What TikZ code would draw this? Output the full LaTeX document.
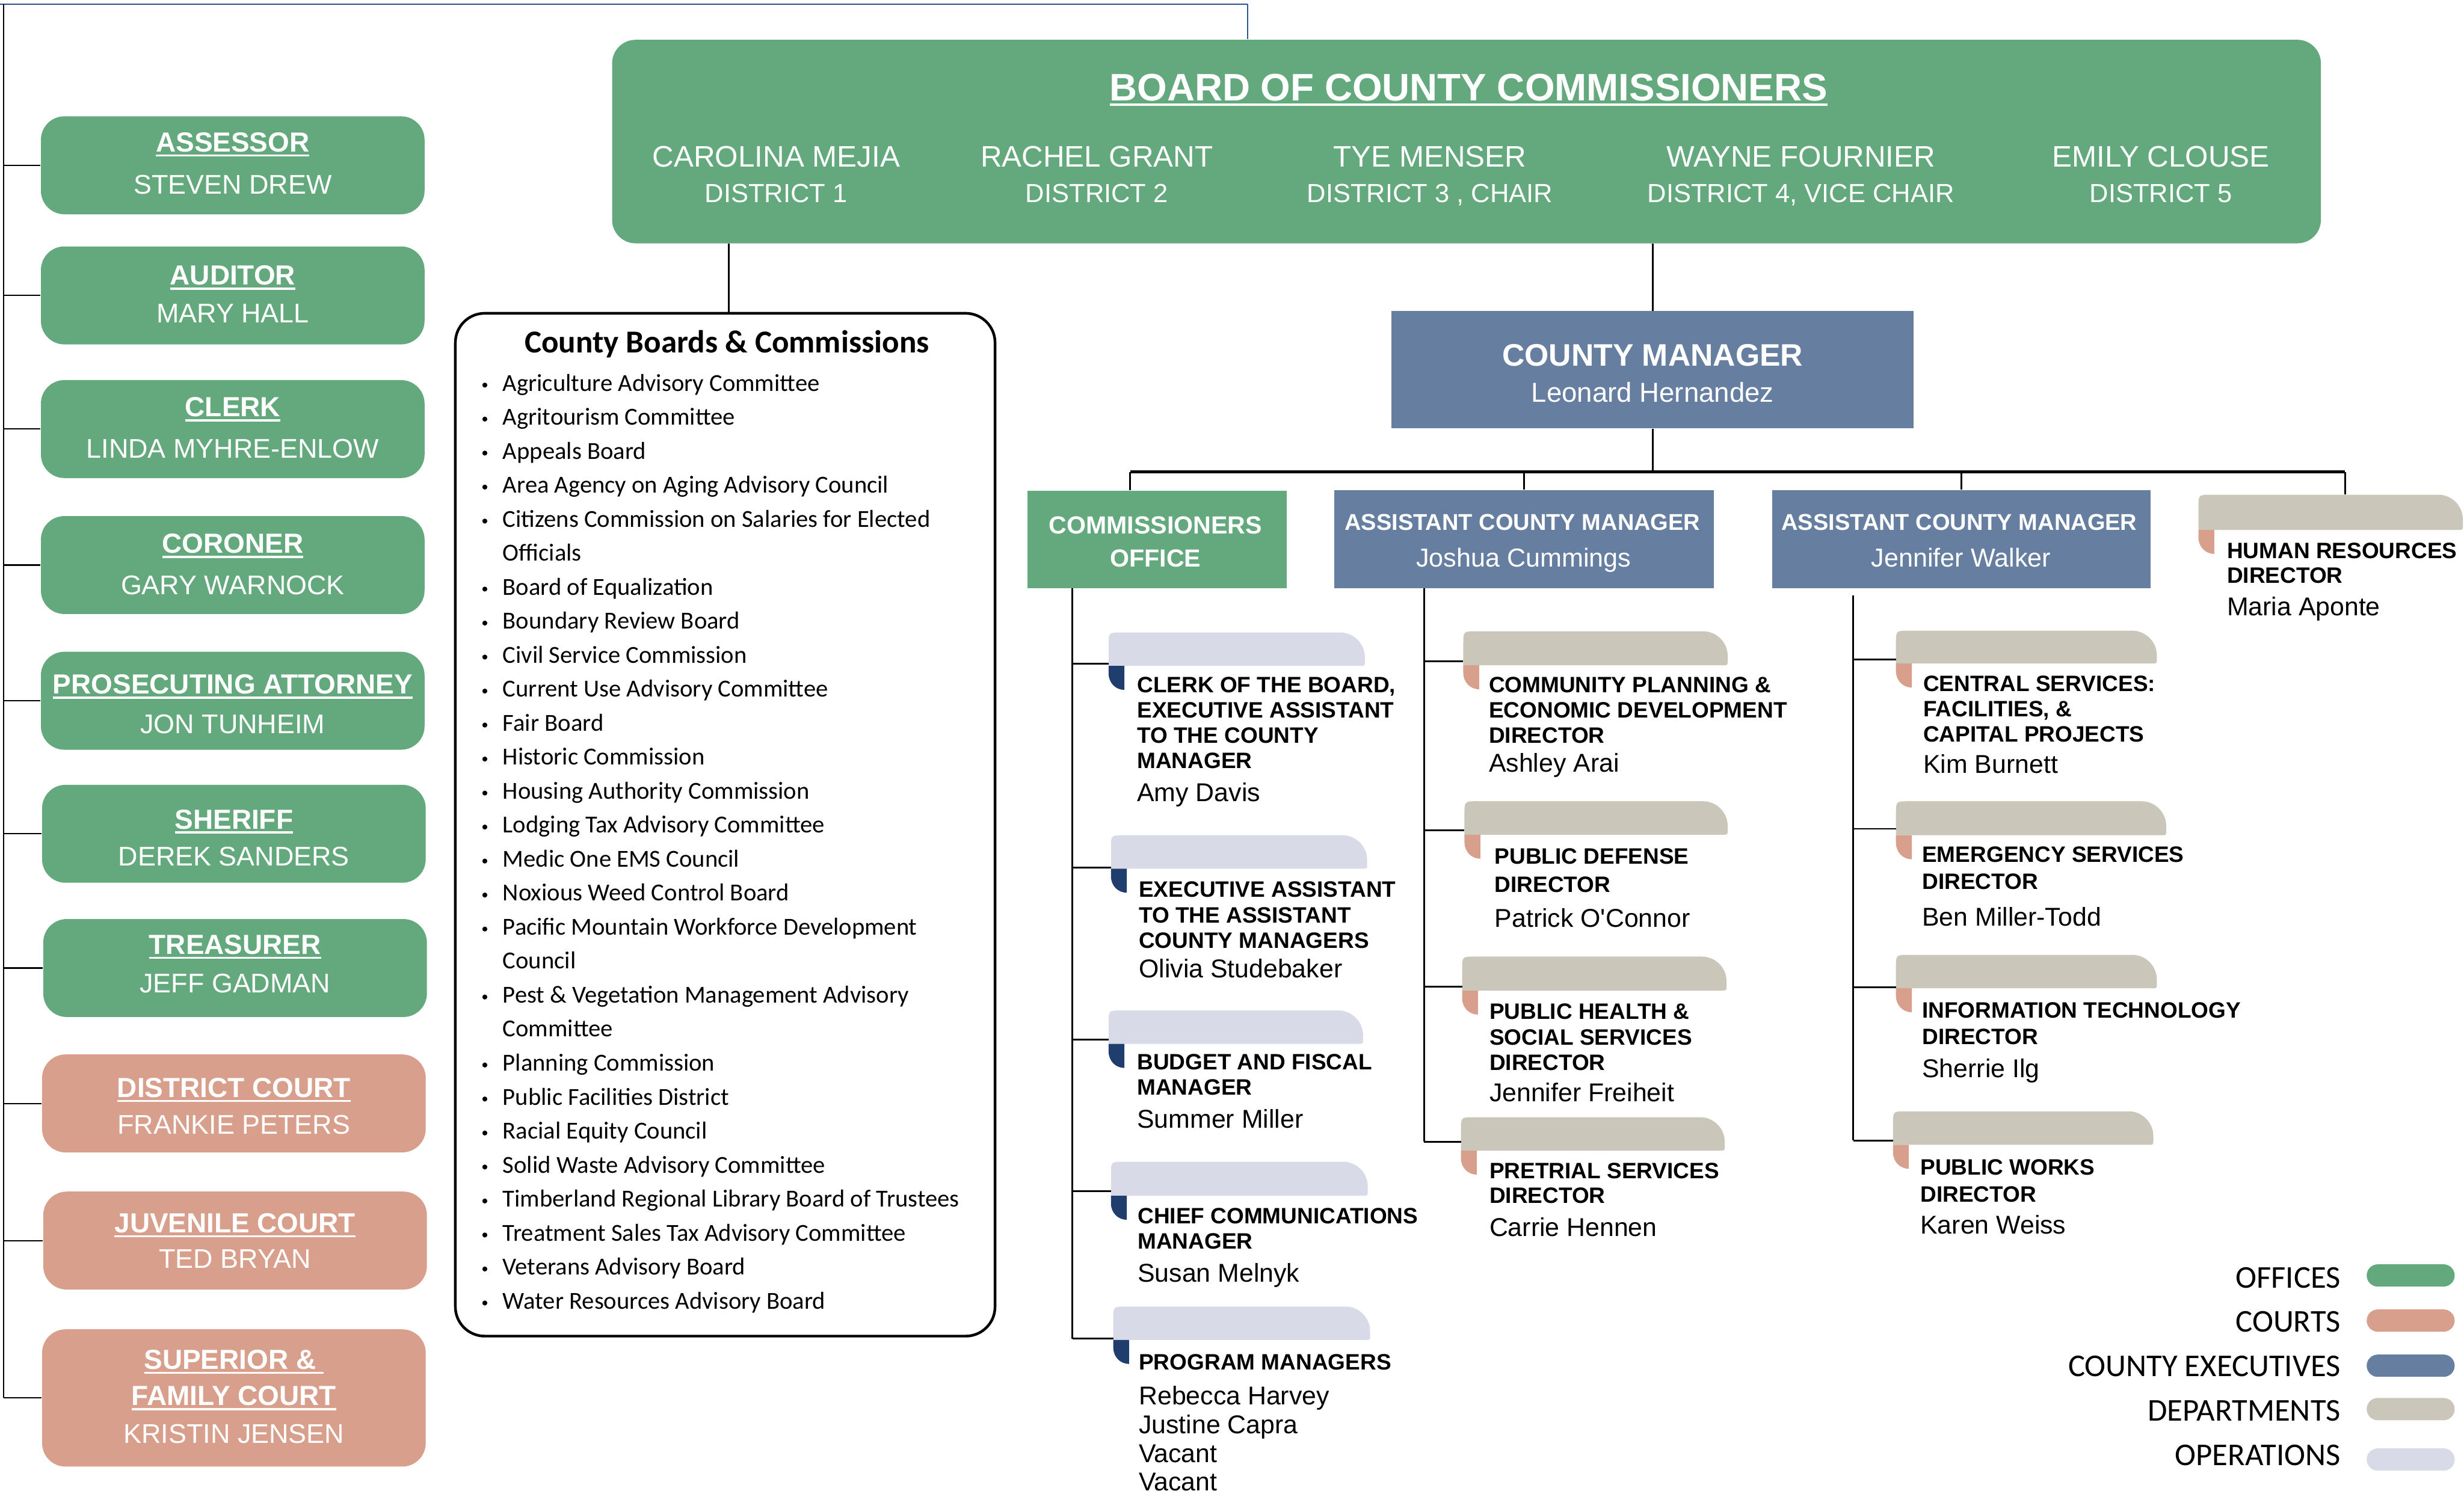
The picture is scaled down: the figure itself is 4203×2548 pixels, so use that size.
\documentclass[tikz,border=0pt]{standalone}
\usepackage{fontspec}
\setmainfont{Liberation Sans}
\newfontfamily\calibri{Carlito}

\definecolor{cgreen}{RGB}{100,168,125}
\definecolor{csalmon}{RGB}{216,160,140}
\definecolor{cexec}{RGB}{102,126,160}
\definecolor{cdept}{RGB}{202,199,186}
\definecolor{clav}{RGB}{216,218,232}
\definecolor{cnavy}{RGB}{31,62,110}
\definecolor{ctop}{RGB}{47,82,143}

% heavy underline for box titles
\newcommand\ulx[1]{\begingroup\setbox0\hbox{#1}\rlap{\rule[-2.3pt]{\wd0}{1pt}}\box0\endgroup}

% tab-shaped card: name, x0, y0, x1, y1, tab colour, accent colour, connector y
\newcommand\card[8]{%
  \fill[#6] (#2,#5) -- (#2,{#3+22}) .. controls (#2,#3) .. ({#2+22},#3)
     -- ({#4-42},#3) .. controls ({#4-19},#3) and (#4,{#3+19}) .. (#4,{#3+42})
     -- (#4,{#5-8}) .. controls (#4,#5) .. ({#4-8},#5) -- cycle;
  \fill[#7] (#2,#5) -- ({#2+27},#5) -- ({#2+27},{#5+41})
     .. controls ({#2+12},{#5+41}) and (#2,{#5+29}) .. (#2,{#5+13}) -- cycle;
  \node[inner sep=0, minimum width={(#4-#2)*0.01cm}, minimum height={(#5-#3)*0.01cm}]
     (#1) at ({(#2+#4)/2},{(#3+#5)/2}) {};
  \coordinate (#1-in) at (#2,#8);
}

\begin{document}
\begin{tikzpicture}[x=0.01cm, y=-0.01cm,
  conn/.style={line width=0.85pt, draw=black},
  thinconn/.style={line width=0.6pt, draw=black},
  busline/.style={line width=1.5pt, draw=black},
  offbox/.style={fill=cgreen, rounded corners=0.4cm, inner sep=0, minimum width=6.54cm, minimum height=1.67cm},
  courtbox/.style={offbox, fill=csalmon},
  wtxt/.style={text=white, inner sep=0, anchor=base},
  ltitle/.style={wtxt, font=\bfseries\fontsize{13.4}{16}\selectfont},
  lperson/.style={wtxt, font=\fontsize{13.1}{16}\selectfont},
  btitle/.style={wtxt, font=\bfseries\fontsize{18.6}{22}\selectfont},
  bname/.style={wtxt, font=\fontsize{14.4}{17}\selectfont},
  bdist/.style={wtxt, font=\fontsize{12.7}{15}\selectfont},
  cmtitle/.style={wtxt, font=\bfseries\fontsize{15.1}{18}\selectfont},
  cmname/.style={wtxt, font=\fontsize{13.3}{16}\selectfont},
  acmtitle/.style={wtxt, font=\bfseries\fontsize{11.1}{13}\selectfont},
  acmname/.style={wtxt, font=\fontsize{12.6}{15}\selectfont},
  cotitle/.style={wtxt, font=\bfseries\fontsize{12}{14}\selectfont},
  dtitle/.style={anchor=north west, inner sep=0, align=left, font=\bfseries\fontsize{10.8}{#1}\selectfont},
  dtitle/.default=12.3pt,
  dname/.style={anchor=north west, inner sep=0, align=left, font=\fontsize{12.5}{#1}\selectfont},
  dname/.default=15pt,
  bctitle/.style={anchor=base, inner sep=0, font=\calibri\bfseries\fontsize{15.5}{18}\selectfont},
  bcitem/.style={anchor=base west, inner sep=0, font=\calibri\fontsize{11.85}{14}\selectfont},
  bcbullet/.style={circle, fill=black, inner sep=0, minimum size=0.085cm},
  legtxt/.style={anchor=base east, inner sep=0, font=\calibri\fontsize{15.4}{18}\selectfont},
  swatch/.style={inner sep=0, minimum width=1.5cm, minimum height=0.38cm, rounded corners=0.19cm},
]
\fill[white] (0,0) rectangle (4203,2548);
\useasboundingbox (0,0) rectangle (4203,2548);

% ---------- Board of County Commissioners ----------
\node[fill=cgreen, rounded corners=0.4cm, inner sep=0, minimum width=29.13cm, minimum height=3.47cm] (board) at (2501.5,241.5) {};
\node[btitle] (board-t) at (2505,172) {\ulx{BOARD OF COUNTY COMMISSIONERS}};
\node[bname] (c1) at (1324,285) {CAROLINA MEJIA};
\node[bdist] (d1) at (1324,345) {DISTRICT 1};
\node[bname] (c2) at (1871,285) {RACHEL GRANT};
\node[bdist] (d2) at (1871,345) {DISTRICT 2};
\node[bname] (c3) at (2439,285) {TYE MENSER};
\node[bdist] (d3) at (2439,345) {DISTRICT 3 , CHAIR};
\node[bname] (c4) at (3072,285) {WAYNE FOURNIER};
\node[bdist] (d4) at (3072,345) {DISTRICT 4, VICE CHAIR};
\node[bname] (c5) at (3686,285) {EMILY CLOUSE};
\node[bdist] (d5) at (3686,345) {DISTRICT 5};

% ---------- elected offices and courts ----------
\node[offbox] (assessor) at (397,282) {};
\node[ltitle] (assessor-t) at (397,259) {\ulx{ASSESSOR}};
\node[lperson] (assessor-n) at (397,331) {STEVEN DREW};
\node[offbox] (auditor) at (397,504) {};
\node[ltitle] (auditor-t) at (397,486) {\ulx{AUDITOR}};
\node[lperson] (auditor-n) at (397,550) {MARY HALL};
\node[offbox] (clerk) at (397,732) {};
\node[ltitle] (clerk-t) at (397,711) {\ulx{CLERK}};
\node[lperson] (clerk-n) at (397,781) {LINDA MYHRE-ENLOW};
\node[offbox] (coroner) at (397,964) {};
\node[ltitle] (coroner-t) at (397,944) {\ulx{CORONER}};
\node[lperson] (coroner-n) at (397,1014) {GARY WARNOCK};
\node[offbox] (pros) at (397,1195.5) {};
\node[ltitle] (pros-t) at (397,1184) {\ulx{PROSECUTING ATTORNEY}};
\node[lperson] (pros-n) at (397,1251) {JON TUNHEIM};
\node[offbox] (sheriff) at (399,1422.5) {};
\node[ltitle] (sheriff-t) at (399,1414) {\ulx{SHERIFF}};
\node[lperson] (sheriff-n) at (399,1477) {DEREK SANDERS};
\node[offbox] (treas) at (401,1651.5) {};
\node[ltitle] (treas-t) at (401,1628) {\ulx{TREASURER}};
\node[lperson] (treas-n) at (401,1694) {JEFF GADMAN};
\node[courtbox] (district) at (399,1882.5) {};
\node[ltitle] (district-t) at (399,1872) {\ulx{DISTRICT COURT}};
\node[lperson] (district-n) at (399,1935) {FRANKIE PETERS};
\node[courtbox] (juvenile) at (401,2116.5) {};
\node[ltitle] (juvenile-t) at (401,2103) {\ulx{JUVENILE COURT}};
\node[lperson] (juvenile-n) at (401,2164) {TED BRYAN};
\node[courtbox, minimum height=2.34cm] (superior) at (399,2385) {};
\node[ltitle] (superior-t1) at (399,2336) {\ulx{SUPERIOR \&~}};
\node[ltitle] (superior-t2) at (399,2398) {\ulx{FAMILY COURT}};
\node[lperson] (superior-n) at (399,2462) {KRISTIN JENSEN};

% frame lines along the top and left edge
\coordinate (spine) at (6,7);
\coordinate (topend) at (2128,7);
\draw[ctop, line width=0.7pt] (0,7) -- (topend);
\draw[ctop, line width=0.4pt] (topend) -- (topend |- board.north);
\draw[thinconn] (spine) -- (spine |- superior.west);
\foreach \n in {assessor,auditor,clerk,coroner,pros,sheriff,treas,district,juvenile,superior}
  \draw[thinconn] (spine |- \n.west) -- (\n.west);

% ---------- County Boards & Commissions ----------
\node[draw, line width=1.3pt, rounded corners=0.5cm, inner sep=0, minimum width=9.2cm, minimum height=17.44cm] (bcbox) at (1237,1407) {};
\draw[conn] ([xshift=0.06cm]bcbox.north) -- ([xshift=0.06cm]bcbox.north |- board.south);
\node[bctitle] (bc-title) at (1240,602) {County Boards \& Commissions};
\foreach \t [count=\i from 0] in {Agriculture Advisory Committee, Agritourism Committee, Appeals Board,
  Area Agency on Aging Advisory Council, Citizens Commission on Salaries for Elected, Officials,
  Board of Equalization, Boundary Review Board, Civil Service Commission, Current Use Advisory Committee,
  Fair Board, Historic Commission, Housing Authority Commission, Lodging Tax Advisory Committee,
  Medic One EMS Council, Noxious Weed Control Board, Pacific Mountain Workforce Development, Council,
  Pest \& Vegetation Management Advisory, Committee, Planning Commission, Public Facilities District,
  Racial Equity Council, Solid Waste Advisory Committee, Timberland Regional Library Board of Trustees,
  Treatment Sales Tax Advisory Committee, Veterans Advisory Board, Water Resources Advisory Board}
  \node[bcitem] (bc-\i) at (857,{667+58*\i}) {\t};
\foreach \i in {0,1,2,3,4,6,7,8,9,10,11,12,13,14,15,16,18,20,21,22,23,24,25,26,27}
  \node[bcbullet] (bul-\i) at (827,{667+58*\i-10}) {};

% ---------- County Manager ----------
\node[fill=cexec, inner sep=0, minimum width=8.9cm, minimum height=2cm] (cm) at (2819,631) {};
\node[cmtitle] (cm-t) at (2819,624) {COUNTY MANAGER};
\node[cmname] (cm-n) at (2819,686) {Leonard Hernandez};
\draw[conn] (cm.north) -- (cm.north |- board.south);

\node[fill=cgreen, inner sep=0, minimum width=4.42cm, minimum height=1.66cm] (co) at (1974,920) {};
\node[cotitle] (co-t1) at (1971,911) {COMMISSIONERS};
\node[cotitle] (co-t2) at (1971,967) {OFFICE};
\node[fill=cexec, inner sep=0, minimum width=6.47cm, minimum height=1.67cm] (acm1) at (2599.5,919.5) {};
\node[acmtitle] (acm1-t) at (2597,905) {ASSISTANT COUNTY MANAGER};
\node[acmname] (acm1-n) at (2599,967) {Joshua Cummings};
\node[fill=cexec, inner sep=0, minimum width=6.45cm, minimum height=1.67cm] (acm2) at (3345.5,919.5) {};
\node[acmtitle] (acm2-t) at (3342,905) {ASSISTANT COUNTY MANAGER};
\node[acmname] (acm2-n) at (3345,967) {Jennifer Walker};

% ---------- cards ----------
\card{hr}{3750}{844}{4201}{904}{cdept}{csalmon}{874}
\node[dtitle=11.95pt] (hr-t) at (3798,926) {HUMAN RESOURCES\\DIRECTOR};
\node[dname] (hr-n) at (3798,1018) {Maria Aponte};

\card{cob}{1891}{1079}{2328}{1136}{clav}{cnavy}{1132}
\node[dtitle] (cob-t) at (1939,1154) {CLERK OF THE BOARD,\\EXECUTIVE ASSISTANT\\TO THE COUNTY\\MANAGER};
\node[dname] (cob-n) at (1939,1335) {Amy Davis};
\card{ea}{1895}{1425}{2332}{1482}{clav}{cnavy}{1480}
\node[dtitle=12.5pt] (ea-t) at (1942,1503) {EXECUTIVE ASSISTANT\\TO THE ASSISTANT\\COUNTY MANAGERS};
\node[dname] (ea-n) at (1942,1635) {Olivia Studebaker};
\card{bud}{1891}{1724}{2325}{1781}{clav}{cnavy}{1774}
\node[dtitle] (bud-t) at (1939,1798) {BUDGET AND FISCAL\\MANAGER};
\node[dname] (bud-n) at (1939,1892) {Summer Miller};
\card{ccm}{1895}{1982}{2333}{2040}{clav}{cnavy}{2032}
\node[dtitle] (ccm-t) at (1940,2060) {CHIEF COMMUNICATIONS\\MANAGER};
\node[dname] (ccm-n) at (1940,2155) {Susan Melnyk};
\card{pm}{1899}{2229}{2337}{2286}{clav}{cnavy}{2284}
\node[dtitle] (pm-t) at (1942,2310) {PROGRAM MANAGERS};
\node[dname=13.94pt] (pm-n) at (1942,2364) {Rebecca Harvey\\Justine Capra\\Vacant\\Vacant};

\card{cped}{2496}{1077}{2947}{1135}{cdept}{csalmon}{1128}
\node[dtitle] (cped-t) at (2539,1154) {COMMUNITY PLANNING \&\\ECONOMIC DEVELOPMENT\\DIRECTOR};
\node[dname] (cped-n) at (2539,1284) {Ashley Arai};
\card{pdef}{2498}{1367}{2947}{1424}{cdept}{csalmon}{1417}
\node[dtitle=13.66pt] (pdef-t) at (2549,1447) {PUBLIC DEFENSE\\DIRECTOR};
\node[dname] (pdef-n) at (2549,1549) {Patrick O\textquotesingle Connor};
\card{phss}{2494}{1632}{2945}{1690}{cdept}{csalmon}{1683}
\node[dtitle=12.4pt] (phss-t) at (2540,1712) {PUBLIC HEALTH \&\\SOCIAL SERVICES\\DIRECTOR};
\node[dname] (phss-n) at (2540,1847) {Jennifer Freiheit};
\card{pret}{2492}{1906}{2942}{1963}{cdept}{csalmon}{1948}
\node[dtitle=11.95pt] (pret-t) at (2540,1983) {PRETRIAL SERVICES\\DIRECTOR};
\node[dname] (pret-n) at (2540,2077) {Carrie Hennen};

\card{csvc}{3234}{1076}{3679}{1132}{cdept}{csalmon}{1125}
\node[dtitle] (csvc-t) at (3280,1152) {CENTRAL SERVICES:\\FACILITIES, \&\\CAPITAL PROJECTS};
\node[dname] (csvc-n) at (3280,1286) {Kim Burnett};
\card{ems}{3234}{1367}{3695}{1425}{cdept}{csalmon}{1414}
\node[dtitle=13.1pt] (ems-t) at (3278,1444) {EMERGENCY SERVICES\\DIRECTOR};
\node[dname] (ems-n) at (3278,1547) {Ben Miller-Todd};
\card{it}{3234}{1629}{3679}{1686}{cdept}{csalmon}{1684}
\node[dtitle=13.1pt] (it-t) at (3278,1709) {INFORMATION TECHNOLOGY\\DIRECTOR};
\node[dname] (it-n) at (3278,1806) {Sherrie Ilg};
\card{pw}{3229}{1896}{3673}{1953}{cdept}{csalmon}{1946}
\node[dtitle=13.1pt] (pw-t) at (3275,1977) {PUBLIC WORKS\\DIRECTOR};
\node[dname] (pw-n) at (3275,2072) {Karen Weiss};

% ---------- reporting lines under the County Manager ----------
\coordinate (busL) at (1928,805);
\coordinate (busR) at (4000,805);
\draw[conn] (cm.south) -- (cm.south |- busL);
\draw[busline] (busL) -- (busR);
\draw[conn] (busL) -- (busL |- co.north);
\draw[conn] (acm1.north) -- (acm1.north |- busL);
\draw[conn] (acm2.north) -- (acm2.north |- busL);
\draw[conn] (busR) -- (busR |- hr.north);

\coordinate (opsv) at ([xshift=0.77cm]co.south west);
\draw[conn] (opsv) -- (opsv |- pm-in);
\foreach \n in {cob,ea,bud,ccm,pm} \draw[conn] (opsv |- \n-in) -- (\n-in);

\coordinate (acm1v) at ([xshift=1.54cm]acm1.south west);
\draw[conn] (acm1v) -- (acm1v |- pret-in);
\foreach \n in {cped,pdef,phss,pret} \draw[conn] (acm1v |- \n-in) -- (\n-in);

\coordinate (acm2v) at ([xshift=1.39cm,yshift=-0.12cm]acm2.south west);
\draw[conn] (acm2v) -- (acm2v |- pw-in);
\foreach \n in {csvc,ems,it,pw} \draw[conn] (acm2v |- \n-in) -- (\n-in);

% ---------- legend ----------
\foreach \t/\c/\y/\s [count=\i] in {OFFICES/cgreen/2197/2176, COURTS/csalmon/2272/2253,
    COUNTY EXECUTIVES/cexec/2348/2330, DEPARTMENTS/cdept/2424/2404, OPERATIONS/clav/2500/2490} {
  \node[legtxt] (leg-\i) at (3993,\y) {\t};
  \node[swatch, fill=\c] (sw-\i) at (4112,\s) {};
}
\end{tikzpicture}
\end{document}
